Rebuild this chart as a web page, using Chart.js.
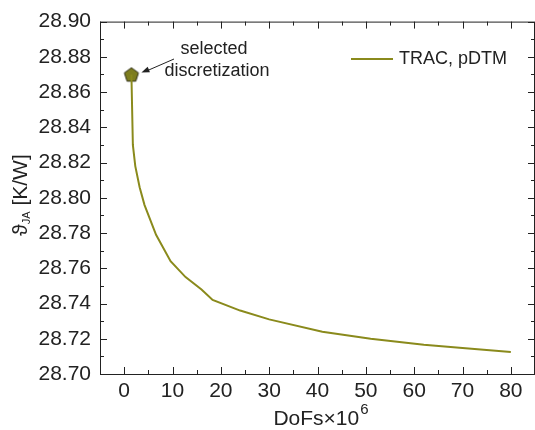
<!DOCTYPE html>
<html>
<head>
<meta charset="utf-8">
<script src="https://cdn.jsdelivr.net/npm/chart.js@4"></script>
<style>
  html, body { margin: 0; padding: 0; background: #fff; overflow: hidden; }
  #wrap { width: 545px; height: 430px; }
</style>
</head>
<body>
<div id="wrap"><canvas id="c" width="545" height="430"></canvas></div>
<script>
// ====== DATA ======
const dofs = [1.5, 1.8, 2.3, 3.2, 4.2, 6.6, 9.6, 12.7, 16.0, 18.3, 24, 30, 41, 51, 62, 70, 80];
const rth  = [28.870, 28.830, 28.818, 28.806, 28.796, 28.779, 28.764, 28.755, 28.748, 28.742, 28.736, 28.731, 28.724, 28.720, 28.7166, 28.7148, 28.7125];
const selectedX = [1.5];
const selectedY = [28.870];
const xTicks = [0, 10, 20, 30, 40, 50, 60, 70, 80];
const yTicks = [28.70, 28.72, 28.74, 28.76, 28.78, 28.80, 28.82, 28.84, 28.86, 28.88, 28.90];
const seriesLabel = "TRAC, pDTM";
const noteLines = ["selected", "discretization"];

// ====== STYLE ======
const OLIVE = "#8a8a1c";
const INK = "#222";
const FONT = "'Liberation Sans', Arial, 'DejaVu Sans', sans-serif";

// pentagon marker as point style
const pent = document.createElement("canvas");
pent.width = 18; pent.height = 18;
(() => {
  const g = pent.getContext("2d");
  g.beginPath();
  for (let i = 0; i < 5; i++) {
    const a = -Math.PI / 2 + i * 2 * Math.PI / 5;
    const px = 9 + 7.4 * Math.cos(a), py = 9.7 + 7.4 * Math.sin(a);
    i ? g.lineTo(px, py) : g.moveTo(px, py);
  }
  g.closePath();
  g.fillStyle = "#7d7d1e";
  g.fill();
  g.lineWidth = 1;
  g.strokeStyle = "#2a2a10";
  g.stroke();
})();

// ====== EXTRAS: frame, inward ticks, titles, legend, note ======
const extras = {
  id: "extras",
  afterDraw(chart) {
    const { ctx, chartArea: a, scales: { x, y } } = chart;
    ctx.save();
    ctx.strokeStyle = INK;
    ctx.lineWidth = 1;
    ctx.strokeRect(a.left + 0.5, a.top + 0.5, a.right - a.left - 1, a.bottom - a.top);

    // inward ticks, major + minor
    const tk = (x1, y1, x2, y2) => { ctx.beginPath(); ctx.moveTo(x1, y1); ctx.lineTo(x2, y2); ctx.stroke(); };
    for (let v = -5; v <= 85; v += 5) {
      const px = Math.round(x.getPixelForValue(v)) + 0.5;
      const len = (v % 10 === 0) ? 7 : 4;
      tk(px, a.bottom, px, a.bottom - len);
      tk(px, a.top, px, a.top + len);
    }
    for (let i = 0; i <= 20; i++) {
      const v = 28.70 + i * 0.01;
      const py = Math.round(y.getPixelForValue(v)) + 0.5;
      const len = (i % 2 === 0) ? 7 : 4;
      tk(a.left, py, a.left + len, py);
      tk(a.right, py, a.right - len, py);
    }

    ctx.fillStyle = INK;
    // x title with superscript
    ctx.textBaseline = "alphabetic";
    const base = "DoFs×10";
    ctx.font = "21px " + FONT;
    const w1 = ctx.measureText(base).width;
    ctx.font = "15px " + FONT;
    const w2 = ctx.measureText("6").width;
    const cx = (a.left + 541) / 2;
    let sx = cx - (w1 + w2) / 2;
    ctx.font = "21px " + FONT;
    ctx.textAlign = "left";
    ctx.fillText(base, sx, 425);
    ctx.font = "15px " + FONT;
    ctx.fillText("6", sx + w1 + 1, 414);

    // y title rotated with subscript
    ctx.save();
    ctx.translate(27, 195);
    ctx.rotate(-Math.PI / 2);
    const p1 = "ϑ", p3 = " [K/W]";
    ctx.font = "21px " + FONT; const wa = ctx.measureText(p1).width;
    ctx.font = "11px " + FONT; const wb = ctx.measureText("JA").width;
    ctx.font = "21px " + FONT; const wc = ctx.measureText(p3).width;
    let tx = -(wa + wb + wc) / 2;
    ctx.fillText(p1, tx, 0);
    ctx.font = "11px " + FONT;
    ctx.fillText("JA", tx + wa, 3);
    ctx.font = "21px " + FONT;
    ctx.fillText(p3, tx + wa + wb, 0);
    ctx.restore();

    // legend
    ctx.strokeStyle = OLIVE;
    ctx.lineWidth = 2;
    tk(351, 59, 393, 59);
    ctx.fillStyle = INK;
    ctx.font = "18px " + FONT;
    ctx.textBaseline = "middle";
    ctx.fillText(seriesLabel, 399, 59);

    // annotation + arrow to selected point
    const mx = x.getPixelForValue(selectedX[0]);
    const my = y.getPixelForValue(selectedY[0]);
    ctx.textAlign = "center";
    ctx.fillText(noteLines[0], 214, 49);
    ctx.fillText(noteLines[1], 217, 71);
    const ax0 = 174, ay0 = 59, ax1 = mx + 10, ay1 = my - 2;
    ctx.strokeStyle = INK;
    ctx.lineWidth = 1;
    tk(ax0, ay0, ax1 + 4, ay1 - 1);
    const ang = Math.atan2(ay1 - ay0, ax1 - ax0);
    ctx.beginPath();
    ctx.moveTo(ax1, ay1);
    ctx.lineTo(ax1 - 8 * Math.cos(ang) + 3 * Math.sin(ang), ay1 - 8 * Math.sin(ang) - 3 * Math.cos(ang));
    ctx.lineTo(ax1 - 8 * Math.cos(ang) - 3 * Math.sin(ang), ay1 - 8 * Math.sin(ang) + 3 * Math.cos(ang));
    ctx.closePath();
    ctx.fill();
    ctx.restore();
  }
};

new Chart(document.getElementById("c"), {
  type: "scatter",
  data: {
    datasets: [
      {
        label: seriesLabel,
        data: dofs.map((v, i) => ({ x: v, y: rth[i] })),
        showLine: true,
        borderColor: OLIVE,
        borderWidth: 2,
        pointRadius: 0,
        tension: 0
      },
      {
        label: "selected",
        data: selectedX.map((v, i) => ({ x: v, y: selectedY[i] })),
        pointStyle: pent,
        pointRadius: 9
      }
    ]
  },
  options: {
    responsive: false,
    animation: false,
    events: [],
    layout: { padding: { left: 0, top: 17, right: 4, bottom: 0 } },
    plugins: { legend: { display: false }, tooltip: { enabled: false } },
    scales: {
      x: {
        type: "linear",
        min: -5, max: 85,
        afterBuildTicks: s => { s.ticks = xTicks.map(v => ({ value: v })); },
        afterFit: s => { s.height = 56; },
        grid: { display: false, drawTicks: false },
        border: { display: false },
        ticks: { color: INK, font: { family: FONT, size: 21 }, padding: 5, maxRotation: 0 }
      },
      y: {
        type: "linear",
        min: 28.70, max: 28.90,
        afterBuildTicks: s => { s.ticks = yTicks.map(v => ({ value: v })); },
        afterFit: s => { s.width = 100; },
        grid: { display: false, drawTicks: false },
        border: { display: false },
        ticks: { color: INK, font: { family: FONT, size: 21 }, padding: 9, callback: v => Number(v).toFixed(2) }
      }
    }
  },
  plugins: [extras]
});
</script>
</body>
</html>
